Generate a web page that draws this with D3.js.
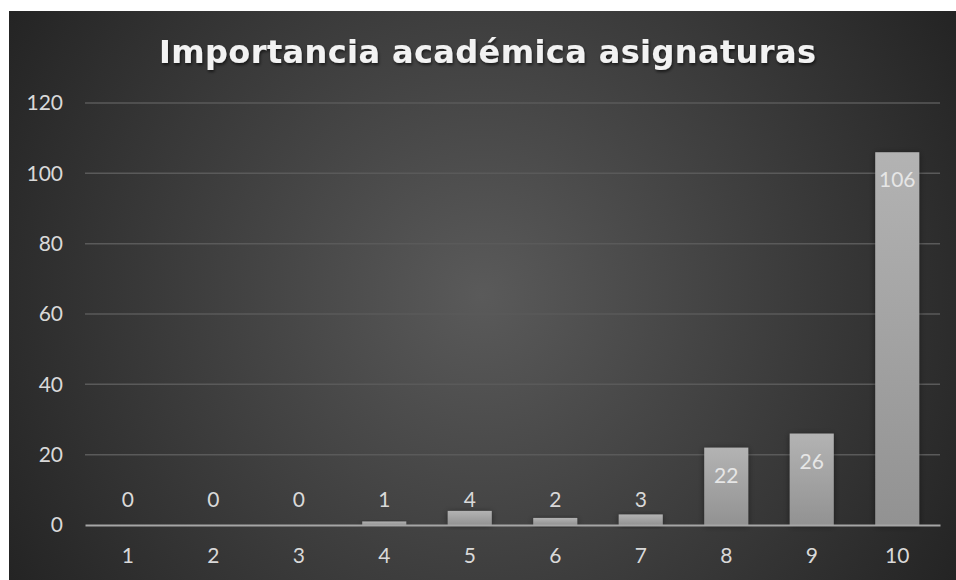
<!DOCTYPE html>
<html>
<head>
<meta charset="utf-8">
<script src="https://cdn.jsdelivr.net/npm/d3@7/dist/d3.min.js"></script>
<style>
  body { margin: 0; background: #fff; }
  svg { display: block; }
</style>
</head>
<body>
<svg width="956" height="580"></svg>
<script>
var titleText = "Importancia académica asignaturas";
var categories = ["1", "2", "3", "4", "5", "6", "7", "8", "9", "10"];
var values = [0, 0, 0, 1, 4, 2, 3, 22, 26, 106];
var yTicks = [0, 20, 40, 60, 80, 100, 120];

var svg = d3.select('svg');
var width = +svg.attr('width');
var height = +svg.attr('height');
var labelFont = 'Lato, "Open Sans", sans-serif';

var defs = svg.append('defs');
var bg = defs.append('radialGradient').attr('id', 'bg')
  .attr('gradientUnits', 'userSpaceOnUse')
  .attr('cx', 482).attr('cy', 295).attr('r', 560);
bg.append('stop').attr('offset', '0%').attr('stop-color', '#5a5a5a');
bg.append('stop').attr('offset', '100%').attr('stop-color', '#232323');

var barGrad = defs.append('linearGradient').attr('id', 'barGrad')
  .attr('x1', 0).attr('y1', 0).attr('x2', 0).attr('y2', 1);
barGrad.append('stop').attr('offset', '0%').attr('stop-color', '#b3b3b3');
barGrad.append('stop').attr('offset', '100%').attr('stop-color', '#929292');

var shadow = defs.append('filter').attr('id', 'shadow')
  .attr('x', '-30%').attr('y', '-30%').attr('width', '160%').attr('height', '160%');
shadow.append('feDropShadow').attr('dx', 0).attr('dy', 1).attr('stdDeviation', 3)
  .attr('flood-color', '#000').attr('flood-opacity', 0.45);

var tshadow = defs.append('filter').attr('id', 'tshadow');
tshadow.append('feDropShadow').attr('dx', 1).attr('dy', 2).attr('stdDeviation', 1.5)
  .attr('flood-color', '#000').attr('flood-opacity', 0.6);

// chart area background
svg.append('rect')
  .attr('x', 9).attr('y', 11)
  .attr('width', width - 9).attr('height', height - 11)
  .attr('fill', 'url(#bg)');

var margin = {left: 85, right: 16, top: 103, bottom: 55};
var xScale = d3.scaleBand()
  .domain(categories)
  .range([margin.left, width - margin.right])
  .paddingInner(0.485)
  .paddingOuter(0.2425);
var yScale = d3.scaleLinear()
  .domain([0, 120])
  .range([height - margin.bottom, margin.top]);

// gridlines
svg.selectAll('.grid')
  .data(yTicks.slice(1))
  .enter()
  .append('line')
  .attr('x1', margin.left)
  .attr('x2', width - margin.right)
  .attr('y1', function(d) { return yScale(d); })
  .attr('y2', function(d) { return yScale(d); })
  .style('stroke', '#5a5a5a')
  .style('stroke-width', 1.5);

// y axis labels
var yAxis = d3.axisLeft(yScale).tickValues(yTicks).tickSize(0).tickPadding(0);
var yg = svg.append('g')
  .attr('transform', 'translate(63,0)')
  .call(yAxis);
yg.select('.domain').remove();
yg.selectAll('text')
  .style('font-family', labelFont)
  .style('font-size', '21px')
  .attr('fill', '#d9d9d9');

// bars
svg.selectAll('.bar')
  .data(values)
  .enter()
  .append('rect')
  .attr('x', function(d, i) { return xScale(categories[i]); })
  .attr('width', xScale.bandwidth())
  .attr('y', function(d) { return yScale(d); })
  .attr('height', function(d) { return yScale(0) - yScale(d); })
  .attr('fill', 'url(#barGrad)')
  .attr('filter', 'url(#shadow)');

// x axis
var xAxis = d3.axisBottom(xScale).tickSize(0).tickPadding(23);
var xg = svg.append('g')
  .attr('transform', 'translate(0,' + yScale(0) + ')')
  .call(xAxis);
xg.select('.domain')
  .style('stroke', '#a6a6a6')
  .style('stroke-width', 2);
xg.selectAll('text')
  .style('font-family', labelFont)
  .style('font-size', '21px')
  .attr('fill', '#d9d9d9');

// data labels
svg.selectAll('.label')
  .data(values)
  .enter()
  .append('text')
  .attr('x', function(d, i) { return xScale(categories[i]) + xScale.bandwidth() / 2; })
  .attr('y', function(d) {
    var top = yScale(d);
    if (yScale(0) - top > 45) return top + 35;
    return yScale(0) - 18;
  })
  .attr('text-anchor', 'middle')
  .style('font-family', labelFont)
  .style('font-size', '21px')
  .attr('fill', function(d) { return yScale(0) - yScale(d) > 45 ? '#e6e6e6' : '#d9d9d9'; })
  .text(function(d) { return d; });

// title
var title = svg.append('text')
  .attr('x', 159)
  .attr('y', 63)
  .style('font-family', '"DejaVu Sans", sans-serif')
  .style('font-weight', 'bold')
  .style('font-size', '32px')
  .attr('fill', '#f2f2f2')
  .attr('filter', 'url(#tshadow)')
  .text(titleText);
var len = title.node().getComputedTextLength();
var spacing = (657 - len) / (titleText.length - 1);
title.style('letter-spacing', spacing + 'px');
</script>
</body>
</html>
